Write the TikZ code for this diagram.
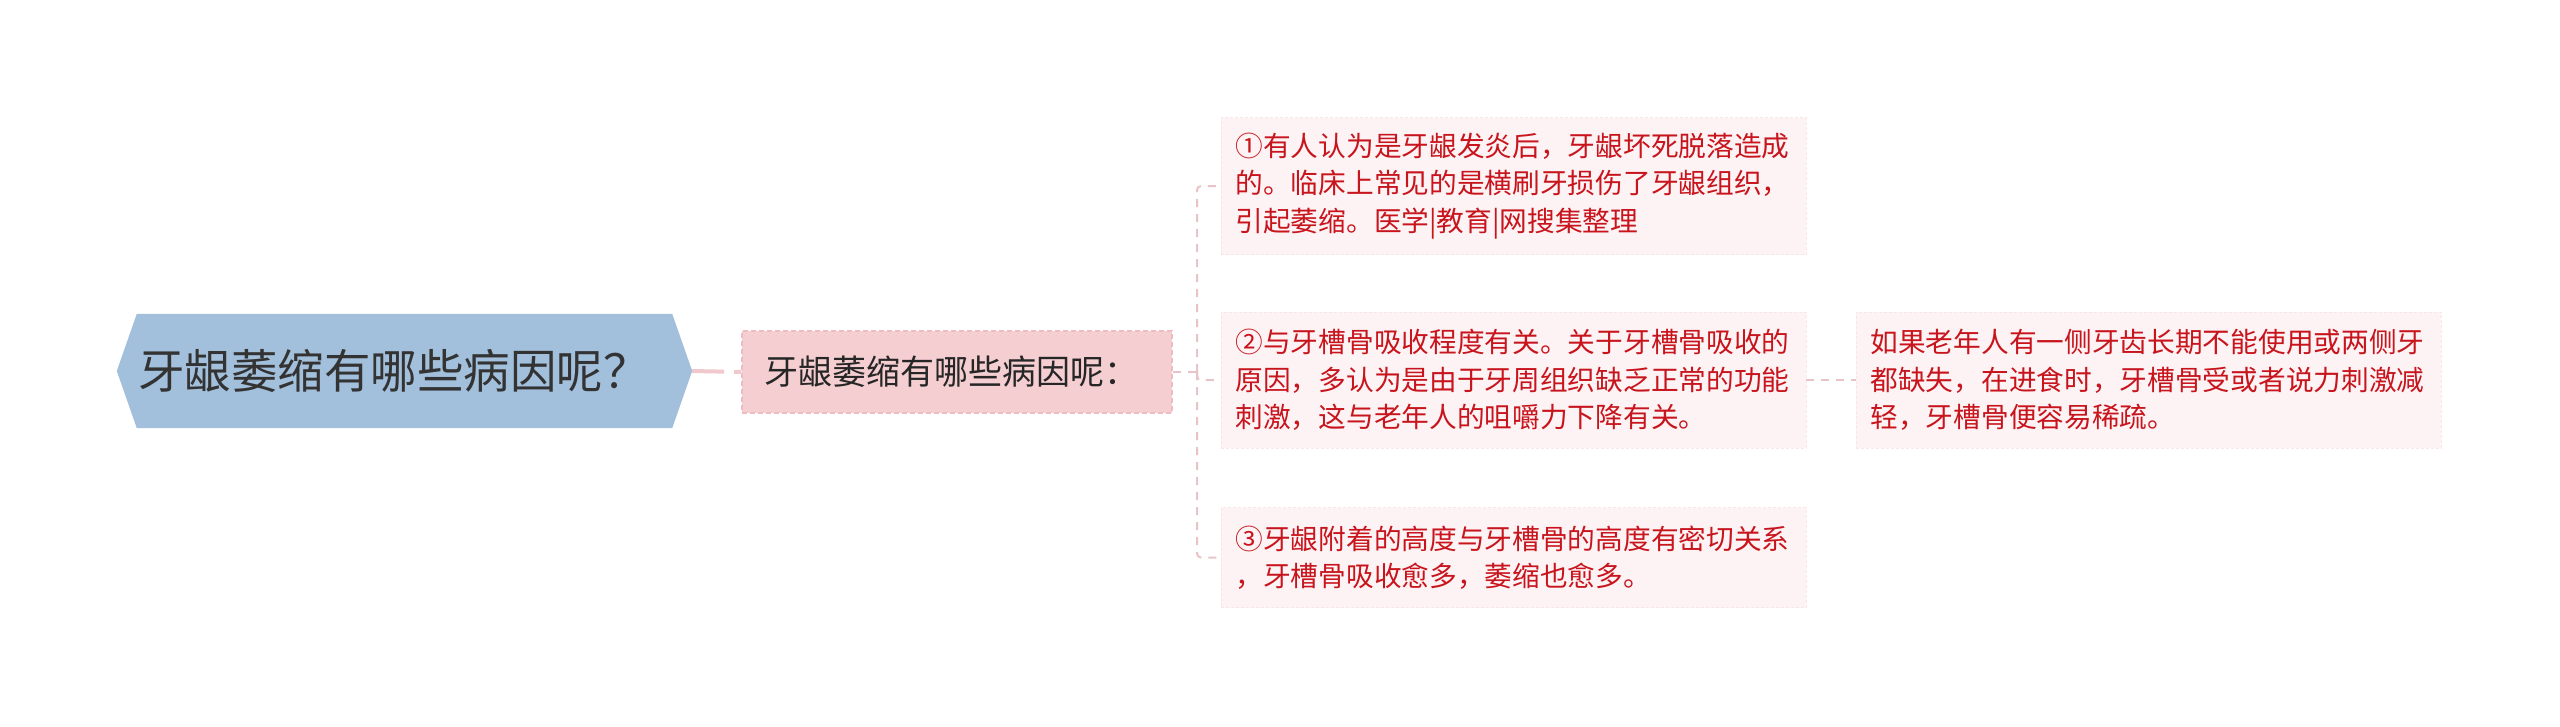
\documentclass[tikz,border=0pt]{standalone}
\usepackage{fontspec}
\setmainfont{Noto Sans CJK SC}
\newfontfamily\circfont[RawFeature=+fwid]{Noto Sans CJK SC}
\usepackage{tikz}
\usetikzlibrary{arrows}
\pgfdeclarelayer{bg}
\pgfsetlayers{bg,main}
\definecolor{rootblue}{RGB}{162,192,220}
\definecolor{rootink}{RGB}{51,51,51}
\definecolor{subfill}{RGB}{245,206,209}
\definecolor{subedge}{RGB}{238,188,194}
\definecolor{linkpink}{RGB}{240,200,205}
\definecolor{twigpink}{RGB}{232,196,200}
\definecolor{leaffill}{RGB}{253,243,244}
\definecolor{leafedge}{RGB}{249,230,232}
\definecolor{leafink}{RGB}{200,20,28}
\tikzset{
	rootbox/.style={minimum width=575pt, minimum height=114pt, text width=533pt, inner xsep=21pt, align=left, text=rootink, font=\fontsize{46.5}{56}\selectfont},
	subbox/.style={minimum width=430pt, minimum height=82pt, text width=386pt, inner xsep=22pt, align=left, fill=subfill, draw=subedge, dash pattern=on 5pt off 3pt, line width=1.2pt, text=black!85, font=\fontsize{34}{40}\selectfont},
	leafbox/.style={text width=556pt, inner xsep=14.5pt, align=left, fill=leaffill, draw=leafedge, densely dashed, line width=.8pt, text=leafink, font=\fontsize{27.7}{37.5}\selectfont},
	rootlink/.style={draw=linkpink, line width=4pt, dash pattern=on 32pt off 10pt},
	twig/.style={draw=twigpink, line width=2pt, dash pattern=on 8pt off 7pt}
}
\begin{document}
\begin{tikzpicture}[x=1pt, y=-1pt]
				\useasboundingbox (0,0) rectangle (2560,726);
				\node[rootbox] (root) at (404.5,371) {牙龈萎缩有哪些病因呢？};
				\begin{pgfonlayer}{bg}
					\fill[white] (0,0) rectangle (2560,726);
					\fill[rootblue] (root.west) -- ([xshift=20pt]root.north west) -- ([xshift=-20pt]root.north east) -- (root.east) -- ([xshift=-20pt]root.south east) -- ([xshift=20pt]root.south west) -- cycle;
				\end{pgfonlayer}
				\node[subbox] (sub) at (957,372) {牙龈萎缩有哪些病因呢：};
				\node[leafbox, minimum height=137pt] (b1) at (1513.5,186) {{\circfont ①}有人认为是牙龈发炎后，牙龈坏死脱落造成\\的。临床上常见的是横刷牙损伤了牙龈组织，\\引起萎缩。医学|教育|网搜集整理};
				\node[leafbox, minimum height=136pt] (b2) at (1513.5,380) {{\circfont ②}与牙槽骨吸收程度有关。关于牙槽骨吸收的\\原因，多认为是由于牙周组织缺乏正常的功能\\刺激，这与老年人的咀嚼力下降有关。};
				\node[leafbox, minimum height=100pt] (b3) at (1513.5,557.5) {{\circfont ③}牙龈附着的高度与牙槽骨的高度有密切关系\\，牙槽骨吸收愈多，萎缩也愈多。};
				\node[leafbox, minimum height=136pt] (b4) at (2148.5,380) {如果老年人有一侧牙齿长期不能使用或两侧牙\\都缺失，在进食时，牙槽骨受或者说力刺激减\\轻，牙槽骨便容易稀疏。};
				\coordinate (spine) at (1197,372);
				\draw[rootlink] (root.east) -- (sub.west);
				\draw[twig] (sub.east) -- (spine);
				\foreach \b in {b1,b2,b3} {
					\draw[twig, rounded corners=4pt] (spine) |- (\b.west);
				}
				\draw[twig] (b2.east) -- (b4.west);
			\end{tikzpicture}
\end{document}
